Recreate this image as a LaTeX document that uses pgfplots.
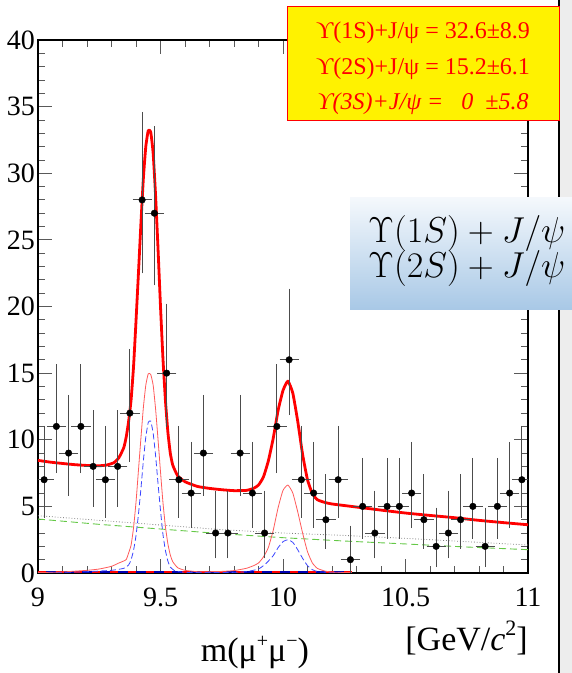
\documentclass[border=0pt]{standalone}
\usepackage{fix-cm}
\usepackage{fontspec}
\setmainfont{Liberation Serif}
\newfontfamily\tickfont{Liberation Serif}
\usepackage{pgfplots}
\usepackage{pgfplotstable}
\pgfplotsset{compat=1.18}

% dimuon mass spectrum: bin centre, counts, Poisson errors (+ / -)
\pgfplotstableread{
x y ep em
9.025 7 3.770 2.575
9.075 11 4.416 3.242
9.125 9 4.110 2.928
9.175 11 4.416 3.242
9.225 8 3.945 2.759
9.275 7 3.770 2.575
9.325 8 3.945 2.759
9.375 12 4.559 3.385
9.425 28 6.345 5.246
9.475 27 6.251 5.153
9.525 15 4.958 3.777
9.575 7 3.770 2.575
9.625 6 3.583 2.377
9.675 9 4.110 2.928
9.725 3 2.918 1.633
9.775 3 2.918 1.633
9.825 9 4.110 2.928
9.875 6 3.583 2.377
9.925 3 2.918 1.633
9.975 11 4.416 3.242
10.025 16 5.083 3.896
10.075 7 3.770 2.575
10.125 6 3.583 2.377
10.175 4 3.162 1.914
10.225 7 3.770 2.575
10.275 1 2.300 0.827
10.325 5 3.382 2.159
10.375 3 2.918 1.633
10.425 5 3.382 2.159
10.475 5 3.382 2.159
10.525 6 3.583 2.377
10.575 4 3.162 1.914
10.625 2 2.638 1.292
10.675 3 2.918 1.633
10.725 4 3.162 1.914
10.775 5 3.382 2.159
10.825 2 2.638 1.292
10.875 5 3.382 2.159
10.925 6 3.583 2.377
10.975 7 3.770 2.575
}\datatab

\definecolor{sigred}{RGB}{255,90,90}
\definecolor{sigblue}{RGB}{60,70,255}
\definecolor{bkggreen}{RGB}{100,200,70}
\definecolor{boxtop}{RGB}{244,248,252}
\definecolor{boxbot}{RGB}{168,200,230}
\newcommand{\tl}[1]{\mbox{\tickfont\fontsize{28}{30}\selectfont #1}}

\begin{document}
\begin{tikzpicture}
\begin{axis}[
  at={(38pt,100pt)}, anchor=south west,
  scale only axis, width=490pt, height=533pt,
  xmin=9, xmax=11, ymin=0, ymax=40,
  xtick={9,9.5,10,10.5,11},
  xticklabels={\tl{9},\tl{9.5},\tl{10},\tl{10.5},\tl{11}},
  ytick={0,5,...,40},
  yticklabels={\tl{0},\tl{5},\tl{10},\tl{15},\tl{20},\tl{25},\tl{30},\tl{35},\tl{40}},
  minor x tick num=4, minor y tick num=4,
  tick align=inside, major tick length=14pt, minor tick length=7pt,
  axis line style={line width=1.3pt, black},
  every tick/.style={black!65, line width=0.8pt},
  tick label style={inner sep=0pt},
  yticklabel style={xshift=-3pt},
  xticklabel style={yshift=-15pt},
]
% background components
\addplot[no marks, gray, line width=0.8pt, dotted] coordinates {
(9.0,4.3) (9.25,3.95) (9.5,3.6) (9.75,3.25) (10.0,3.0) (10.25,2.82) (10.5,2.6) (10.75,2.35) (11.0,2.1)};
\addplot[no marks, bkggreen, line width=0.9pt, dash pattern=on 7pt off 4pt] coordinates {
(9.0,4.05) (9.25,3.65) (9.5,3.3) (9.75,2.95) (10.0,2.65) (10.25,2.4) (10.5,2.18) (10.75,1.95) (11.0,1.75)};
% Upsilon(3S) component (zero yield)
\addplot[no marks, blue!70!black, line width=1.8pt] coordinates {(9,0.1) (10.28,0.1)};
\addplot[no marks, red, line width=1.8pt, dash pattern=on 8pt off 10pt] coordinates {(9,0.1) (10.28,0.1)};
% signal components
\addplot[no marks, sigblue, line width=0.8pt, dash pattern=on 6pt off 3pt, smooth, tension=0.3] coordinates {
(9.00,0.02) (9.10,0.05) (9.20,0.1) (9.30,0.2) (9.35,0.35) (9.37,0.6) (9.38,1.0) (9.39,1.7)
(9.40,2.8) (9.41,4.4) (9.42,6.3) (9.43,8.4) (9.44,10.2) (9.45,11.3) (9.46,11.4) (9.47,10.5)
(9.48,8.8) (9.49,6.7) (9.50,4.7) (9.51,2.9) (9.52,1.7) (9.53,0.9) (9.54,0.45) (9.56,0.15)
(9.60,0.05) (9.70,0.03) (9.80,0.05) (9.85,0.1) (9.90,0.3) (9.93,0.7) (9.96,1.3) (9.98,1.9)
(10.00,2.35) (10.02,2.5) (10.04,2.3) (10.06,1.75) (10.08,1.1) (10.10,0.55) (10.12,0.25)
(10.15,0.08) (10.28,0.02)};
\addplot[no marks, sigred, line width=0.8pt, smooth, tension=0.3] coordinates {
(9.00,0.03) (9.10,0.08) (9.20,0.2) (9.25,0.3) (9.30,0.5) (9.33,0.75) (9.35,0.9) (9.36,1.0)
(9.37,1.5) (9.38,2.1) (9.39,3.4) (9.40,5.3) (9.41,7.7) (9.42,10.1) (9.43,12.4) (9.44,14.1)
(9.45,14.95) (9.46,14.9) (9.47,14.1) (9.48,12.3) (9.49,10.0) (9.50,7.6) (9.51,5.3) (9.52,3.5)
(9.53,2.2) (9.54,1.35) (9.55,0.85) (9.57,0.4) (9.60,0.2) (9.65,0.1) (9.70,0.1) (9.75,0.12)
(9.80,0.18) (9.85,0.35) (9.88,0.55) (9.90,0.75) (9.92,1.2) (9.94,1.9) (9.96,3.2) (9.98,4.9)
(10.00,6.2) (10.02,6.6) (10.04,6.0) (10.06,4.6) (10.08,3.0) (10.10,1.6) (10.12,0.75)
(10.14,0.35) (10.17,0.15) (10.20,0.07) (10.28,0.03)};
% total fit
\addplot[no marks, red, line width=2.8pt, smooth, tension=0.3, line join=round] coordinates {
(9.00,8.45) (9.05,8.32) (9.10,8.22) (9.15,8.13) (9.20,8.07) (9.25,8.05) (9.28,8.10) (9.31,8.28)
(9.33,8.65) (9.35,9.4) (9.36,10.2) (9.37,11.4) (9.38,13.0) (9.39,15.5) (9.40,18.9) (9.41,22.5)
(9.42,26.2) (9.43,29.6) (9.44,32.0) (9.45,33.2) (9.46,33.1) (9.47,31.5) (9.48,28.3) (9.49,24.3)
(9.50,20.0) (9.51,16.1) (9.52,13.0) (9.53,10.6) (9.54,9.0) (9.55,8.1) (9.57,7.3) (9.60,6.85)
(9.65,6.5) (9.70,6.35) (9.75,6.25) (9.80,6.18) (9.85,6.2) (9.88,6.35) (9.90,6.6) (9.92,7.2)
(9.94,8.4) (9.96,10.1) (9.98,12.2) (10.00,13.7) (10.02,14.4) (10.04,13.5) (10.06,11.4)
(10.08,8.9) (10.10,7.0) (10.12,5.95) (10.14,5.5) (10.17,5.3) (10.20,5.18) (10.30,4.95)
(10.40,4.72) (10.50,4.5) (10.60,4.32) (10.70,4.15) (10.80,3.95) (10.90,3.78) (11.00,3.62)};
% data
\addplot[only marks, mark=*, mark size=3.3pt, black,
  error bars/.cd, x dir=both, x fixed=0.025, y dir=both, y explicit,
  error bar style={line width=0.8pt, black!70},
  error mark options={line width=0.8pt, black!70, mark size=3.5pt}]
  table[x=x, y=y, y error plus=ep, y error minus=em] {\datatab};
\end{axis}

% axis titles
\node[anchor=base, font=\fontsize{34}{36}\selectfont, inner sep=0pt] at (255pt,11pt)
  {m(μ\raisebox{0.42em}{\fontsize{20}{22}\selectfont +}μ\raisebox{0.42em}{\fontsize{20}{22}\selectfont −})};
\node[anchor=base east, font=\fontsize{34}{36}\selectfont, inner sep=0pt] at (528pt,23pt)
  {[GeV/\textit{c}\raisebox{0.42em}{\fontsize{22}{24}\selectfont 2}]};

% page edge on the right
\fill[black!7] (559pt,0pt) rectangle (572pt,673pt);
\draw[line width=1.3pt] (559pt,0pt) -- (559pt,673pt);

% fitted yields
\filldraw[fill=yellow, draw=red, line width=1pt] (287pt,552pt) rectangle (559pt,666pt);
\begin{scope}[every node/.style={anchor=base, inner sep=0pt, text=red, font=\fontsize{24}{26}\selectfont}]
\node at (423pt,634.7pt) {ϒ(1S)+J/ψ = 32.6±8.9};
\node at (423pt,598pt) {ϒ(2S)+J/ψ = 15.2±6.1};
\node at (423pt,563pt) {\itshape ϒ(3S)+J/ψ =\ \ \ 0\ \ ±5.8};
\end{scope}

% channel box
\shade[top color=boxtop, bottom color=boxbot] (350pt,363pt) rectangle (572pt,475pt);
\node[anchor=base west, inner sep=0pt, font=\fontsize{36}{40}\selectfont] at (368pt,430pt)
  {$\Upsilon(1S)+J/\psi$};
\node[anchor=base west, inner sep=0pt, font=\fontsize{36}{40}\selectfont] at (368pt,395pt)
  {$\Upsilon(2S)+J/\psi$};

\pgfresetboundingbox
\path[use as bounding box] (0pt,0pt) rectangle (572pt,673pt);
\end{tikzpicture}
\end{document}
